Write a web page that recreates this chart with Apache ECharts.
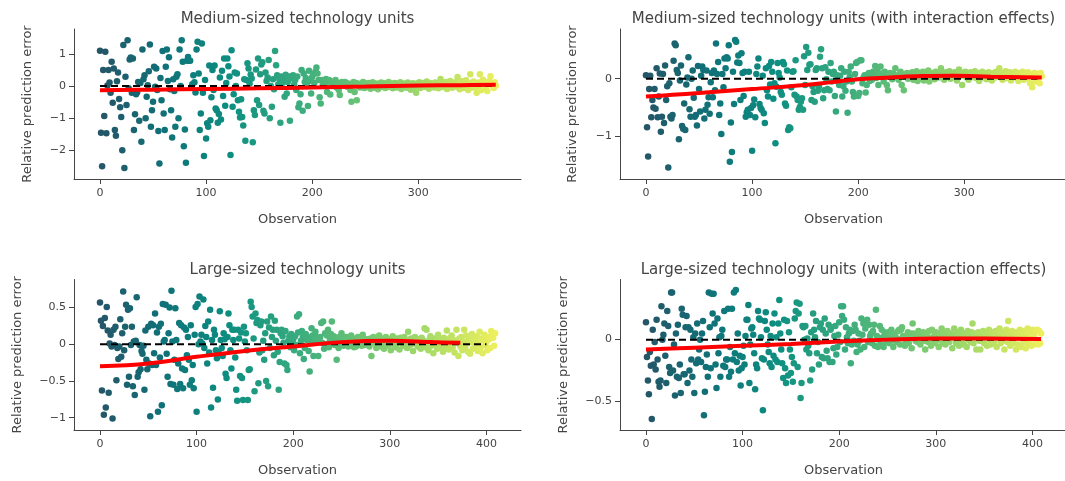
<!DOCTYPE html>
<html>
<head>
<meta charset="utf-8">
<script src="https://cdn.jsdelivr.net/npm/echarts@6/dist/echarts.min.js"></script>
<style>
  html, body { margin: 0; padding: 0; background: #ffffff; }
  #chart { width: 1065px; height: 481px; }
</style>
</head>
<body>
<div id="chart"></div>
<script>
// Relative prediction error per observation (x = observation index)
const errMedium = [
  1.10,-1.45,-2.50,0.50,-0.93,1.07,-1.47,0.02,0.50,0.11,
  -0.21,0.76,-0.52,0.55,-1.37,-1.55,0.15,0.42,-0.40,-0.66,
  -0.96,-2.00,1.28,-2.55,0.29,-0.59,1.43,-0.07,0.83,0.89,
  -0.21,0.86,-1.37,-0.88,-0.25,-0.19,0.13,-1.08,0.10,-1.73,
  1.14,0.21,0.34,-1.00,-0.33,0.03,0.46,1.30,-1.27,-0.75,
  -0.49,0.60,-0.02,0.55,-0.12,-1.40,-2.41,0.25,-0.44,1.09,
  -0.85,-1.37,0.60,1.14,0.16,0.90,-0.10,-0.75,-1.60,0.21,
  -0.15,-1.27,0.29,0.37,-1.00,1.14,0.00,1.43,0.76,-1.87,
  -1.35,-2.39,0.79,0.91,0.79,0.79,-0.05,0.06,0.34,0.12,
  -0.20,1.14,1.38,0.39,-1.37,-0.85,1.33,-0.21,-2.18,0.19,
  -1.63,-1.16,-1.27,0.64,-1.06,-0.35,0.50,-0.12,0.64,-0.70,
  -0.75,-1.14,-0.87,0.27,-1.04,0.48,-0.31,0.86,-0.61,0.10,
  0.86,0.62,0.30,-2.15,1.12,-0.64,-0.25,0.42,0.00,0.39,
  -0.44,-0.80,-0.98,-0.41,-0.96,-1.23,0.21,-1.70,0.19,0.71,
  0.55,0.08,0.36,0.24,-1.75,-0.75,-0.90,0.52,-0.44,0.86,
  -0.59,0.37,0.67,0.74,-0.77,-0.85,0.42,0.16,0.27,0.81,
  -1.00,0.00,-0.64,0.21,-0.10,1.09,0.65,0.34,0.05,0.21,
  -1.14,0.30,0.10,0.22,-0.33,0.35,-0.23,0.13,0.28,-1.08,
  0.31,0.24,0.34,0.05,0.19,-0.12,0.30,-0.66,-0.54,-0.25,
  0.50,-0.77,0.39,0.13,0.25,0.00,-0.62,0.48,0.16,-0.23,
  0.28,0.37,0.10,0.45,0.58,0.39,0.19,-0.35,-0.54,0.19,
  0.05,0.13,0.00,0.22,-0.18,0.10,0.19,-0.26,0.08,0.13,
  0.06,0.15,0.19,-0.04,0.10,-0.12,-0.28,0.05,0.13,0.09,
  0.03,0.13,0.07,-0.02,0.08,0.02,-0.12,-0.49,0.05,0.13,
  -0.18,0.10,-0.44,0.08,0.02,-0.04,0.03,0.08,0.13,-0.06,
  -0.04,0.05,-0.02,0.10,0.03,-0.08,0.06,0.12,0.01,-0.05,
  0.08,0.04,-0.10,0.07,0.02,0.11,-0.03,0.05,0.09,-0.06,
  0.03,0.06,0.13,-0.02,0.04,0.08,-0.07,0.02,0.10,0.05,
  -0.04,0.07,0.01,0.12,-0.09,0.04,0.08,0.00,0.06,-0.05,
  0.11,0.03,0.07,-0.11,0.05,0.09,0.02,-0.03,-0.21,0.08,
  0.04,0.12,-0.06,0.06,0.01,0.10,-0.02,0.07,0.14,0.03,
  -0.08,0.05,0.09,0.00,0.06,-0.04,0.11,0.02,0.08,-0.07,
  0.04,0.22,0.06,-0.03,0.09,0.01,0.13,-0.09,0.05,0.08,
  0.16,0.02,-0.05,0.10,0.04,0.12,-0.02,0.28,0.07,-0.10,
  0.05,0.15,0.03,-0.06,0.09,0.18,0.01,-0.12,0.06,0.37,
  0.10,-0.04,0.14,0.02,0.08,-0.21,-0.08,0.11,0.37,-0.13,
  0.05,0.20,-0.07,0.12,0.03,-0.15,0.09,0.15,0.31,0.04,
  0.08,-0.06,0.12,0.02
];

const errMediumInteraction = [
  0.06,-0.84,-1.35,-0.18,0.05,-0.67,-0.37,-0.50,-0.18,-0.52,
  0.18,-0.67,-0.31,0.09,-0.92,-0.66,0.08,-0.77,0.23,-0.37,
  -0.13,-1.54,-0.08,-0.66,-0.69,-0.63,0.31,0.61,0.58,0.15,
  0.10,-1.05,-0.03,0.23,-0.82,-0.87,-0.43,-0.89,-0.10,0.02,
  0.37,-0.53,-0.66,0.00,0.14,-0.33,-0.66,-0.63,-0.81,0.22,
  -0.18,-0.57,0.05,0.21,0.15,-0.69,-0.54,0.14,-0.45,-0.32,
  -0.61,-0.06,0.10,-0.32,0.14,-0.20,0.61,0.08,0.29,-0.63,
  -0.43,-0.96,0.08,-0.15,0.35,0.18,0.37,0.35,0.58,-1.44,
  -0.76,-1.27,0.12,-0.44,0.67,0.64,0.28,0.40,0.27,-0.37,
  0.44,0.10,-0.30,0.12,-0.66,-0.58,-0.54,0.12,-0.63,-0.51,
  -1.25,-0.46,-0.36,-0.67,0.08,0.21,0.35,-0.44,-0.51,-0.54,
  0.05,-0.60,-0.77,0.18,-0.20,-0.31,0.22,-0.10,0.29,0.12,
  -0.35,-0.08,-1.12,-0.14,0.27,0.10,0.02,-0.23,-0.28,0.29,
  0.25,-0.43,-0.47,0.14,-0.89,-0.84,-0.86,-0.15,0.12,0.13,
  -0.28,0.32,-0.31,-0.37,-0.54,-0.49,-0.40,-0.34,-0.54,0.39,
  -0.11,0.55,0.15,0.45,0.24,0.25,-0.37,-0.13,-0.23,-0.40,
  0.15,0.18,-0.21,-0.13,0.38,0.51,0.18,-0.34,-0.20,0.20,
  -0.01,-0.18,0.12,-0.20,0.27,-0.05,0.08,0.12,-0.30,-0.57,
  0.06,-0.05,-0.11,0.05,0.18,-0.31,-0.13,0.12,-0.21,-0.05,
  -0.59,0.12,0.03,0.21,-0.05,-0.23,-0.31,0.08,0.27,0.29,
  -0.30,-0.25,0.32,0.32,-0.08,0.02,0.06,-0.24,-0.11,0.06,
  0.10,-0.04,0.06,-0.02,0.12,0.06,0.22,0.01,0.15,-0.11,
  0.06,0.21,0.09,0.06,-0.05,0.12,0.03,-0.11,-0.20,0.06,
  0.10,0.02,-0.01,0.09,0.06,0.18,0.04,0.05,-0.02,0.08,
  0.12,-0.11,0.04,-0.20,0.07,0.06,0.10,0.00,0.03,0.09,
  0.05,0.11,-0.02,0.08,0.03,0.13,-0.04,0.06,0.10,0.01,
  0.07,0.12,-0.03,0.05,0.09,0.02,0.14,-0.05,0.06,0.10,
  0.04,0.08,-0.01,0.12,0.05,0.09,0.02,0.06,0.18,0.03,
  0.10,-0.02,0.07,0.11,0.04,0.08,0.13,0.00,0.06,0.09,
  0.03,0.11,0.05,-0.03,0.08,0.16,0.04,0.07,-0.11,0.10,
  0.05,0.12,0.02,0.08,-0.02,0.06,0.11,0.03,0.09,0.05,
  0.13,0.01,0.07,0.10,-0.04,0.06,0.08,0.12,0.02,0.05,
  0.09,-0.01,0.07,0.11,0.04,0.08,-0.03,0.06,0.10,0.02,
  0.12,0.05,0.08,0.18,0.03,0.07,-0.02,0.10,0.05,0.13,
  0.01,0.08,0.04,0.11,-0.03,0.06,0.09,0.02,0.12,0.05,
  0.07,-0.04,0.10,0.03,0.08,0.12,-0.02,0.06,0.09,0.01,
  0.11,0.04,-0.08,0.07,-0.15,0.05,0.10,-0.05,0.08,0.03,
  0.06,-0.08,0.10,0.04
];

const errLarge = [
  0.57,0.32,-0.63,0.25,-0.96,0.36,-0.86,0.51,0.19,-0.66,
  0.01,0.13,-0.03,-1.01,0.20,-0.01,0.24,-0.49,-0.05,-0.20,
  -0.03,0.34,-0.17,0.15,0.72,-0.08,0.24,0.54,-0.55,0.47,
  -0.44,0.49,-0.01,0.24,-0.57,0.04,-0.69,0.05,0.64,-0.44,
  -0.38,-0.01,-0.34,-0.09,-0.13,-0.02,-0.62,0.19,-0.21,-0.34,
  0.24,-0.26,-0.98,0.28,-0.28,0.26,-0.12,0.42,-0.28,0.16,
  -0.92,0.24,-0.18,0.28,-0.83,0.55,0.04,0.06,0.54,-0.13,
  -0.44,0.15,0.50,-0.54,0.73,0.04,-0.55,-0.21,0.49,0.06,
  -0.61,-0.26,0.29,-0.54,0.26,-0.33,-0.60,0.23,-0.35,0.20,
  -0.15,0.10,-0.21,-0.55,0.26,-0.49,-0.28,-0.60,0.13,0.51,
  -0.92,0.55,0.00,0.65,0.04,0.13,0.01,0.61,-0.05,0.25,
  0.10,-0.26,0.31,-0.11,0.47,-0.86,0.06,-0.59,0.20,0.13,
  -0.08,-0.19,-0.75,-0.12,0.45,0.06,-0.05,-0.16,0.15,0.07,
  -0.40,-0.46,0.10,0.42,0.26,-0.08,-0.33,0.20,0.06,0.20,
  -0.18,-0.62,-0.77,0.20,0.08,-0.43,0.16,-0.46,-0.76,0.24,
  0.04,0.15,-0.08,-0.76,-0.35,-0.34,0.58,0.51,0.38,0.08,
  -0.64,0.42,0.29,0.33,-0.53,-0.11,0.26,0.31,-0.08,0.05,
  -0.21,0.15,-0.50,0.31,-0.57,0.23,-0.05,0.38,0.10,0.20,
  -0.15,0.32,0.05,0.20,-0.10,-0.62,-0.24,0.15,0.20,0.11,
  0.02,-0.26,0.18,-0.28,-0.35,0.05,0.11,-0.04,0.14,0.03,
  0.07,-0.08,0.11,-0.01,0.38,0.16,0.41,-0.12,0.05,0.18,
  0.10,-0.20,-0.05,0.14,0.06,0.10,-0.09,-0.37,0.05,0.22,
  0.12,-0.16,0.03,0.17,0.10,0.05,-0.16,0.08,0.10,0.29,
  0.02,0.31,-0.06,0.15,0.00,0.12,0.20,-0.04,0.06,0.14,
  0.31,0.03,0.11,-0.01,0.07,-0.21,0.09,-0.05,0.10,0.02,
  0.15,0.06,-0.02,0.09,0.04,0.10,0.00,-0.03,0.07,0.04,
  0.12,0.01,0.08,-0.04,0.07,-0.03,0.05,0.10,0.02,0.04,
  0.09,-0.02,0.13,0.03,-0.01,0.06,0.07,0.05,0.00,-0.03,
  0.08,-0.16,0.04,0.10,0.02,0.06,-0.05,0.09,0.03,0.12,
  -0.03,0.05,0.01,0.08,-0.06,0.04,0.10,0.02,-0.02,0.07,
  0.03,-0.08,0.06,0.11,0.00,0.04,-0.04,0.08,0.02,0.06,
  -0.07,0.09,0.03,0.05,-0.02,0.10,0.01,0.04,-0.05,0.17,
  0.06,-0.01,0.08,0.03,-0.09,0.05,0.10,0.00,0.04,-0.03,
  0.07,0.02,-0.06,0.09,0.01,0.05,0.22,-0.04,0.20,0.03,
  -0.08,0.06,0.11,-0.02,0.04,-0.12,0.08,0.00,0.05,-0.06,
  0.13,0.02,-0.03,0.07,0.04,-0.10,0.09,0.01,-0.05,0.19,
  0.03,-0.07,0.08,0.00,0.12,-0.04,0.06,-0.11,0.02,0.20,
  0.05,-0.16,0.08,-0.03,0.10,-0.08,0.04,0.20,-0.05,0.12,
  0.01,-0.10,0.07,-0.13,0.03,0.14,-0.06,0.09,-0.02,0.05,
  0.11,-0.09,0.02,0.17,-0.04,0.08,-0.12,0.06,0.13,-0.01,
  0.04,-0.08,0.10,0.07,-0.05,0.18,0.13,0.09,-0.02,0.15
];

const errLargeInteraction = [
  0.14,-0.14,-0.33,-0.44,-0.10,-0.21,-0.64,0.08,-0.20,-0.02,
  -0.24,0.16,-0.16,-0.34,-0.38,-0.33,0.27,0.00,0.04,0.13,
  -0.13,-0.35,0.23,0.11,-0.22,-0.27,0.38,0.38,-0.25,-0.04,
  -0.45,0.05,-0.30,0.12,-0.31,-0.20,-0.43,0.25,0.20,-0.28,
  -0.28,0.10,0.19,-0.35,0.10,-0.25,0.08,-0.16,-0.30,0.02,
  -0.43,0.05,-0.19,0.13,-0.16,-0.08,0.00,-0.18,0.05,0.15,
  -0.61,-0.42,-0.22,-0.12,-0.30,0.38,0.10,-0.23,0.37,0.21,
  0.37,0.13,-0.20,-0.39,0.17,-0.11,0.02,-0.30,0.03,0.08,
  -0.21,0.23,-0.22,-0.16,-0.16,0.25,-0.30,-0.06,-0.26,0.25,
  -0.16,0.38,-0.11,0.40,-0.18,0.05,-0.25,-0.13,-0.37,-0.23,
  -0.14,-0.05,-0.20,0.03,0.16,0.16,0.28,-0.35,-0.04,0.09,
  0.10,0.04,-0.11,-0.40,-0.20,-0.23,0.23,0.17,0.16,0.02,
  -0.15,-0.57,-0.16,0.15,0.22,0.08,-0.04,-0.10,-0.19,0.03,
  -0.22,0.13,-0.13,0.21,-0.16,0.02,-0.18,0.13,0.32,0.05,
  -0.08,-0.19,-0.31,0.16,-0.23,-0.35,0.15,-0.29,0.06,-0.08,
  -0.27,-0.14,-0.34,-0.19,0.17,0.23,0.30,-0.22,0.21,0.29,
  -0.47,-0.35,0.11,0.10,0.00,0.11,-0.08,0.01,-0.05,-0.11,
  -0.33,0.06,-0.24,0.21,0.08,0.02,0.15,-0.11,-0.02,-0.20,
  0.10,0.13,-0.14,0.08,-0.15,0.17,0.05,-0.09,-0.15,0.12,
  -0.18,0.08,0.10,-0.18,-0.07,0.03,0.11,-0.12,-0.06,0.04,
  0.14,-0.02,0.27,0.19,0.27,0.16,-0.08,0.10,0.02,-0.03,
  0.05,0.08,-0.19,-0.04,0.07,-0.01,0.12,0.08,-0.10,-0.04,
  0.05,-0.01,-0.08,0.17,0.04,0.13,-0.06,0.09,0.14,0.16,
  -0.02,0.12,0.03,0.05,-0.03,0.07,0.12,-0.05,0.24,0.03,
  -0.06,0.00,0.11,-0.04,0.08,0.02,-0.06,0.06,0.05,-0.02,
  0.01,0.06,-0.03,0.04,0.08,0.00,-0.06,0.03,0.05,-0.02,
  0.01,0.07,0.08,-0.04,0.08,0.10,0.03,0.02,-0.05,-0.02,
  0.02,0.06,-0.03,0.01,0.05,-0.07,0.13,0.05,0.02,-0.01,
  0.04,-0.02,0.07,0.02,-0.04,0.04,0.00,0.06,-0.01,-0.08,
  0.03,0.05,-0.02,0.07,0.01,-0.05,0.08,0.02,-0.03,0.04,
  0.06,-0.01,0.03,-0.06,0.05,0.01,0.09,-0.03,0.02,0.06,
  -0.04,0.03,0.07,0.00,-0.02,0.05,0.02,-0.07,0.04,0.09,
  0.01,-0.03,0.06,0.02,-0.05,0.04,0.08,-0.01,0.03,-0.04,
  0.05,0.02,-0.06,0.07,0.00,0.04,-0.02,0.06,0.13,-0.03,
  0.02,0.05,-0.08,0.03,0.06,-0.01,-0.08,0.04,0.01,0.07,
  -0.03,0.02,0.05,-0.05,0.03,0.08,0.00,-0.04,0.06,0.02,
  -0.02,0.04,0.07,-0.06,0.03,0.01,0.09,-0.03,0.05,-0.01,
  0.06,-0.08,0.03,0.08,-0.02,0.15,0.04,-0.05,0.02,0.07,
  -0.03,0.05,0.01,-0.08,0.06,-0.04,0.03,0.08,-0.06,0.02,
  0.05,-0.02,0.07,-0.07,0.04,0.09,-0.03,0.01,0.06,-0.05,
  0.08,-0.04,0.03,0.07,-0.02,0.08,-0.04,0.07,-0.03,0.05
];

// Smoothed trend of the error (observation, value)
const trendObsMedium = [0, 50, 100, 150, 200, 250, 300, 340, 373];
const trendMedium = [-0.13, -0.11, -0.09, -0.07, -0.04, -0.01, 0.02, 0.03, 0.04];
const trendObsMediumInteraction = [0, 25, 50, 100, 150, 175, 200, 230, 260, 290, 325, 373];
const trendMediumInteraction = [-0.31, -0.28, -0.25, -0.18, -0.11, -0.06, -0.01, 0.02, 0.045, 0.05, 0.035, 0.02];
const trendObsLarge = [0, 50, 100, 150, 200, 250, 300, 345, 373];
const trendLarge = [-0.30, -0.26, -0.17, -0.09, -0.03, 0.03, 0.05, 0.03, 0.02];
const trendObsLargeInteraction = [0, 50, 100, 150, 200, 250, 300, 350, 409];
const trendLargeInteraction = [-0.08, -0.065, -0.05, -0.035, -0.015, 0.0, 0.01, 0.01, 0.005];

// Zero-error reference line extent
const zeroLineMedium = [0, 369];
const zeroLineLarge = [0, 400];

const panelTitles = [
  'Medium-sized technology units',
  'Medium-sized technology units (with interaction effects)',
  'Large-sized technology units',
  'Large-sized technology units (with interaction effects)'
];
const xTicksMedium = [0, 100, 200, 300];
const xTicksLarge = [0, 100, 200, 300, 400];
const yTicksMedium = [-2, -1, 0, 1];
const yTicksMediumInteraction = [-1, 0];
const yTicksLarge = [-1, -0.5, 0, 0.5];
const yTicksLargeInteraction = [-0.5, 0];

const aggrnyl = ['rgb(36,86,104)', 'rgb(15,114,121)', 'rgb(13,143,129)', 'rgb(57,171,126)',
                 'rgb(110,197,116)', 'rgb(169,220,103)', 'rgb(237,239,93)'];

const FONT = 'DejaVu Sans';
const TEXT = '#444444';
const AXIS = '#444444';

const panels = [
  { err: errMedium, trendX: trendObsMedium, trendY: trendMedium, zero: zeroLineMedium,
    xTicks: xTicksMedium, yTicks: yTicksMedium,
    grid: { left: 74, top: 29, width: 447, height: 150 }, x: [-24.5, 396.8], y: [-2.894, 1.779], nameGap: 40 },
  { err: errMediumInteraction, trendX: trendObsMediumInteraction, trendY: trendMediumInteraction, zero: zeroLineMedium,
    xTicks: xTicksMedium, yTicks: yTicksMediumInteraction,
    grid: { left: 620, top: 29, width: 447, height: 150 }, x: [-24.5, 396.8], y: [-1.739, 0.861], nameGap: 41 },
  { err: errLarge, trendX: trendObsLarge, trendY: trendLarge, zero: zeroLineLarge,
    xTicks: xTicksLarge, yTicks: yTicksLarge,
    grid: { left: 74, top: 279.5, width: 447, height: 150.5 }, x: [-26.9, 435.8], y: [-1.167, 0.883], nameGap: 50 },
  { err: errLargeInteraction, trendX: trendObsLargeInteraction, trendY: trendLargeInteraction, zero: zeroLineLarge,
    xTicks: xTicksLarge, yTicks: yTicksLargeInteraction,
    grid: { left: 620, top: 279.5, width: 447, height: 150.5 }, x: [-26.9, 435.8], y: [-0.729, 0.485], nameGap: 50 }
];

const fmt = v => (v < 0 ? '\u2212' + Math.abs(v) : String(v));

const option = {
  animation: false,
  backgroundColor: '#ffffff',
  textStyle: { fontFamily: FONT },
  title: [], grid: [], xAxis: [], yAxis: [], series: [], visualMap: []
};

panels.forEach((p, i) => {
  option.title.push({
    text: panelTitles[i],
    left: p.grid.left + p.grid.width / 2,
    top: p.grid.top - 17,
    textAlign: 'center',
    padding: 0,
    textStyle: { fontFamily: FONT, fontSize: 15, fontWeight: 'normal', color: TEXT }
  });
  option.grid.push(Object.assign({ containLabel: false, outerBoundsMode: 'none' }, p.grid));
  option.xAxis.push({
    type: 'value', gridIndex: i, min: p.x[0], max: p.x[1],
    name: 'Observation', nameLocation: 'middle', nameGap: 34,
    nameTextStyle: { fontFamily: FONT, fontSize: 13, color: TEXT },
    axisLine: { onZero: false, lineStyle: { color: AXIS, width: 1 } },
    axisTick: { show: true, inside: false, length: 5, lineStyle: { color: AXIS }, customValues: p.xTicks },
    axisLabel: { fontFamily: FONT, fontSize: 11, color: TEXT, margin: 9, customValues: p.xTicks, formatter: fmt },
    splitLine: { show: false }
  });
  option.yAxis.push({
    type: 'value', gridIndex: i, min: p.y[0], max: p.y[1],
    name: 'Relative prediction error', nameLocation: 'middle', nameGap: p.nameGap,
    nameTextStyle: { fontFamily: FONT, fontSize: 13, color: TEXT },
    axisLine: { onZero: false, lineStyle: { color: AXIS, width: 1 } },
    axisTick: { show: true, inside: false, length: 5, lineStyle: { color: AXIS }, customValues: p.yTicks },
    axisLabel: { fontFamily: FONT, fontSize: 11, color: TEXT, margin: 8, customValues: p.yTicks, formatter: fmt },
    splitLine: { show: false }
  });
  const scatterIndex = option.series.length;
  option.series.push({
    type: 'scatter', xAxisIndex: i, yAxisIndex: i,
    data: p.err.map((v, k) => [k, v]),
    symbolSize: 6.5,
    itemStyle: { opacity: 1 },
    z: 2
  });
  option.series.push({
    type: 'line', xAxisIndex: i, yAxisIndex: i,
    data: p.zero.map(x => [x, 0]),
    symbol: 'none',
    lineStyle: { color: '#000000', width: 2, type: [7, 4] },
    z: 3
  });
  option.series.push({
    type: 'line', xAxisIndex: i, yAxisIndex: i,
    data: p.trendX.map((x, k) => [x, p.trendY[k]]),
    symbol: 'none', smooth: 0.4,
    lineStyle: { color: '#ff0000', width: 4 },
    z: 4
  });
  option.visualMap.push({
    type: 'continuous', show: false, seriesIndex: scatterIndex, dimension: 0,
    min: 0, max: p.err.length - 1,
    inRange: { color: aggrnyl }
  });
});

const chart = echarts.init(document.getElementById('chart'), null, { renderer: 'canvas' });
chart.setOption(option);
</script>
</body>
</html>
